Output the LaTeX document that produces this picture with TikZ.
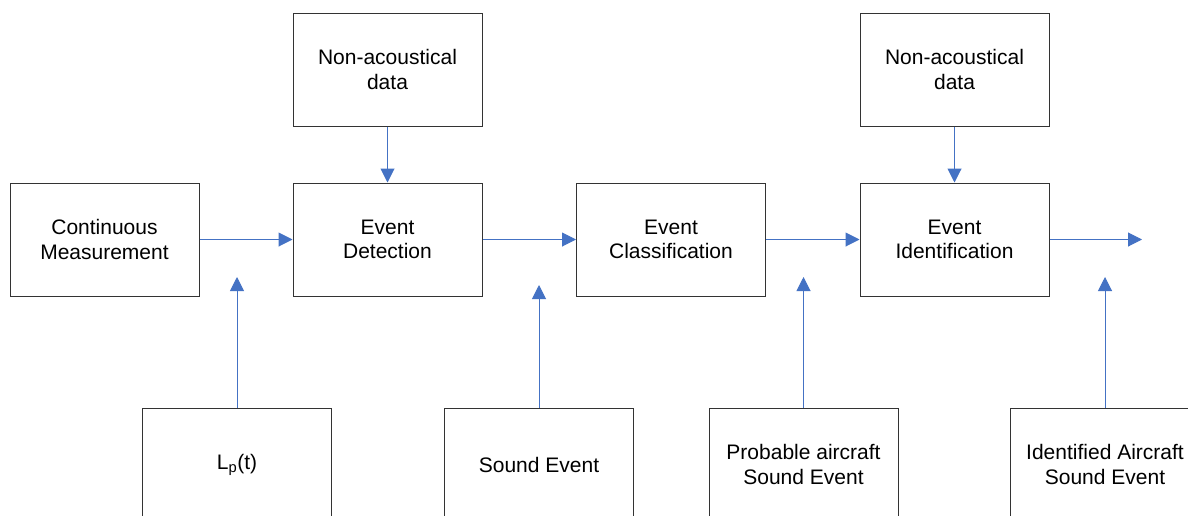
\documentclass[tikz,border=0pt]{standalone}
\usepackage{fontspec}
\setmainfont{Liberation Sans}
\usetikzlibrary{arrows.meta}
\definecolor{arrowblue}{HTML}{4472C4}
\definecolor{boxgray}{HTML}{333333}
\begin{document}
\begin{tikzpicture}[x=1pt,y=-1pt,
  blk/.style={draw=boxgray, line width=1pt, fill=white, minimum width=189pt, minimum height=113pt,
    inner sep=0pt, align=center, font=\fontsize{21pt}{24.5pt}\selectfont},
  flow/.style={draw=arrowblue, line width=1pt, -{Triangle[length=14pt,width=14pt]}}]
\useasboundingbox (0,0) rectangle (1188,515);
\clip (0,0) rectangle (1188,515);
\fill[white] (0,0) rectangle (1188,515);
% main row
\node[blk] (cm) at (104.5,239.5) {Continuous\\Measurement};
\node[blk] (ed) at (387.5,239.5) {Event\\Detection};
\node[blk] (ec) at (671,239.5) {Event\\Classification};
\node[blk] (ei) at (954.5,239.5) {Event\\Identification};
% top row
\node[blk] (na1) at (387.5,69.5) {Non-acoustical\\data};
\node[blk] (na2) at (954.5,69.5) {Non-acoustical\\data};
% bottom row
\node[blk] (lp) at (237,464.5) {L\textsubscript{p}(t)};
\node[blk] (se) at (539,464.5) {Sound Event};
\node[blk] (pa) at (803.5,464.5) {Probable aircraft\\Sound Event};
\node[blk] (ia) at (1105,464.5) {Identified Aircraft\\Sound Event};
% free ends
\coordinate (out) at (1142,239.5);
\coordinate (t1) at (237,277);
\coordinate (t2) at (539,285);
\coordinate (t3) at (803.5,277);
\coordinate (t4) at (1105,277);
% connectors
\draw[flow] (cm.east) -- (ed.west);
\draw[flow] (ed.east) -- (ec.west);
\draw[flow] (ec.east) -- (ei.west);
\draw[flow] (ei.east) -- (out);
\draw[flow] (na1.south) -- (ed.north);
\draw[flow] (na2.south) -- (ei.north);
\draw[flow] (lp.north) -- (t1);
\draw[flow] (se.north) -- (t2);
\draw[flow] (pa.north) -- (t3);
\draw[flow] (ia.north) -- (t4);
\end{tikzpicture}
\end{document}
